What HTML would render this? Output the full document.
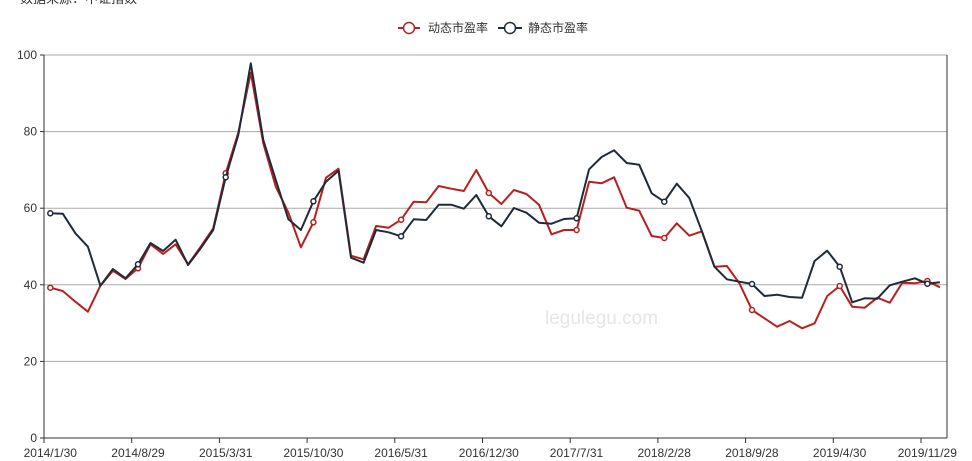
<!DOCTYPE html>
<html><head><meta charset="utf-8"><style>
body{margin:0;background:#fff;}
svg{display:block;font-family:"Liberation Sans","Noto Sans CJK SC",sans-serif;}
</style></head><body>
<svg id="c" width="972" height="461" xmlns="http://www.w3.org/2000/svg">
<text x="20" y="3" font-size="13" fill="#333">数据来源：中证指数</text>
<g font-size="12" fill="#333">
<line x1="398" y1="28" x2="420" y2="28" stroke="#b8201f" stroke-width="2"/>
<circle cx="409" cy="28" r="5.5" fill="#fff" stroke="#b8201f" stroke-width="1.5"/>
<text x="428" y="32">动态市盈率</text>
<line x1="498" y1="28" x2="522" y2="28" stroke="#1f2b38" stroke-width="2"/>
<circle cx="510" cy="28" r="5.5" fill="#fff" stroke="#1f2b38" stroke-width="1.5"/>
<text x="528" y="32">静态市盈率</text>
</g>
<text x="545" y="324" font-size="19" fill="#e6e6e6">legulegu.com</text>
<g id="grid"></g>
<g id="series"></g>
</svg>
<script>
var s=document.getElementById('grid'),h='';
for(var k=0;k<=5;k++){var y=438-k*76.6;
if(k>0)h+='<line x1="44" y1="'+y+'" x2="947" y2="'+y+'" stroke="#aaa" stroke-width="1"/>';
h+='<line x1="40" y1="'+y+'" x2="44" y2="'+y+'" stroke="#333"/>';
h+='<text x="37" y="'+(y+4)+'" font-size="12" fill="#333" text-anchor="end">'+(k*20)+'</text>';}
h+='<line x1="44" y1="55" x2="44" y2="438" stroke="#333"/><line x1="947" y1="55" x2="947" y2="438" stroke="#333"/><line x1="44" y1="438" x2="947" y2="438" stroke="#333"/>';
var labs=['2014/1/30','2014/8/29','2015/3/31','2015/10/30','2016/5/31','2016/12/30','2017/7/31','2018/2/28','2018/9/28','2019/4/30','2019/11/29'];
for(var k=0;k<11;k++){var x=44+87.7*k;h+='<line x1="'+x+'" y1="438" x2="'+x+'" y2="443" stroke="#333"/>';
h+='<text x="'+(50.3+87.7*k)+'" y="457" font-size="12" fill="#333" text-anchor="middle">'+labs[k]+'</text>';}
s.innerHTML=h;
var red=[863,873,905,935,857,812,837,805,733,762,733,793,740,685,520,398,218,430,560,638,742,667,533,506,767,778,678,683,659,605,607,558,566,573,510,579,612,570,582,614,703,690,690,545,550,532,623,632,708,714,670,707,694,800,798,850,930,955,980,963,985,970,888,858,920,923,893,908,848,850,843,862];
var blk=[640,641,700,740,857,807,835,793,729,753,719,795,745,690,532,405,190,420,540,658,690,604,545,512,773,788,690,697,709,658,660,614,614,626,585,649,679,624,638,668,671,657,655,508,471,451,489,494,580,605,551,594,694,800,838,845,852,888,884,891,893,783,752,800,907,895,896,856,845,835,851,847];
function ser(d,c){var p=[],m='';for(var i=0;i<d.length;i++){var x=50.3+12.53*i,y=d[i]/3;p.push(x.toFixed(1)+','+y.toFixed(1));
if(i%7==0)m+='<circle cx="'+x.toFixed(1)+'" cy="'+y.toFixed(1)+'" r="2.5" fill="#fff" stroke="'+c+'" stroke-width="1.5"/>';}
return '<polyline points="'+p.join(' ')+'" fill="none" stroke="'+c+'" stroke-width="2" stroke-linejoin="round"/>'+m;}
document.getElementById('series').innerHTML=ser(red,'#b8201f')+ser(blk,'#1f2b38');
</script>
</body></html>
